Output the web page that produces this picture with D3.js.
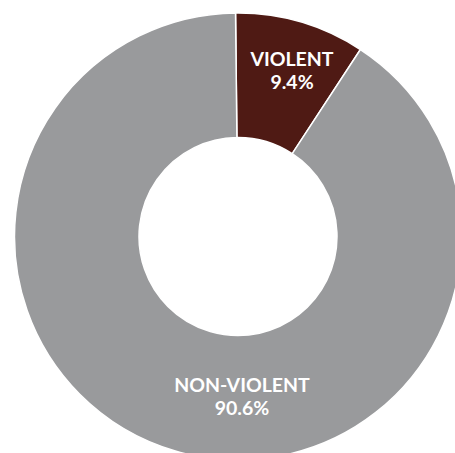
<!DOCTYPE html>
<html><head><meta charset="utf-8">
<script src="https://cdn.jsdelivr.net/npm/d3@7"></script>
<style>html,body{margin:0;padding:0;background:#fff;}svg{display:block;}</style>
</head><body>
<svg id="chart" width="455" height="453"></svg>
<script>
const categories = ["VIOLENT", "NON-VIOLENT"];
const values = [9.4, 90.6];
const labels = ["9.4%", "90.6%"];
const colors = ["#4f1a14", "#999a9c"];

const svg = d3.select("#chart");
const cx = 238, cy = 236.5, outerR = 223.5, innerR = 99;
const g = svg.append("g").attr("transform", `translate(${cx},${cy})`);

const pie = d3.pie().sort(null).value(d => d)
  .startAngle(-0.011).endAngle(2 * Math.PI - 0.011);
const arcs = pie(values);
const arc = d3.arc().innerRadius(innerR).outerRadius(outerR);

g.selectAll("path").data(arcs).join("path")
  .attr("d", arc)
  .attr("fill", (d, i) => colors[i])
  .attr("stroke", "#fff")
  .attr("stroke-width", 1.5);

// label positions (polar offsets from center)
const labelPos = [{a: 0.31, r: 177}, {a: Math.PI - 0.025, r: 157.5}];
arcs.forEach((d, i) => {
  const p = labelPos[i];
  const x = Math.sin(p.a) * p.r, y = -Math.cos(p.a) * p.r;
  const t = g.append("text")
    .attr("x", x).attr("y", y)
    .attr("text-anchor", "middle")
    .attr("fill", "#fff")
    .style("font-family", "Lato, sans-serif")
    .style("font-weight", "700")
    .style("font-size", "19.5px");
  t.append("tspan").attr("x", x).attr("dy", "-0.1em").text(categories[i]);
  t.append("tspan").attr("x", x).attr("dy", "1.2em").text(labels[i]);
});
</script>
</body></html>
